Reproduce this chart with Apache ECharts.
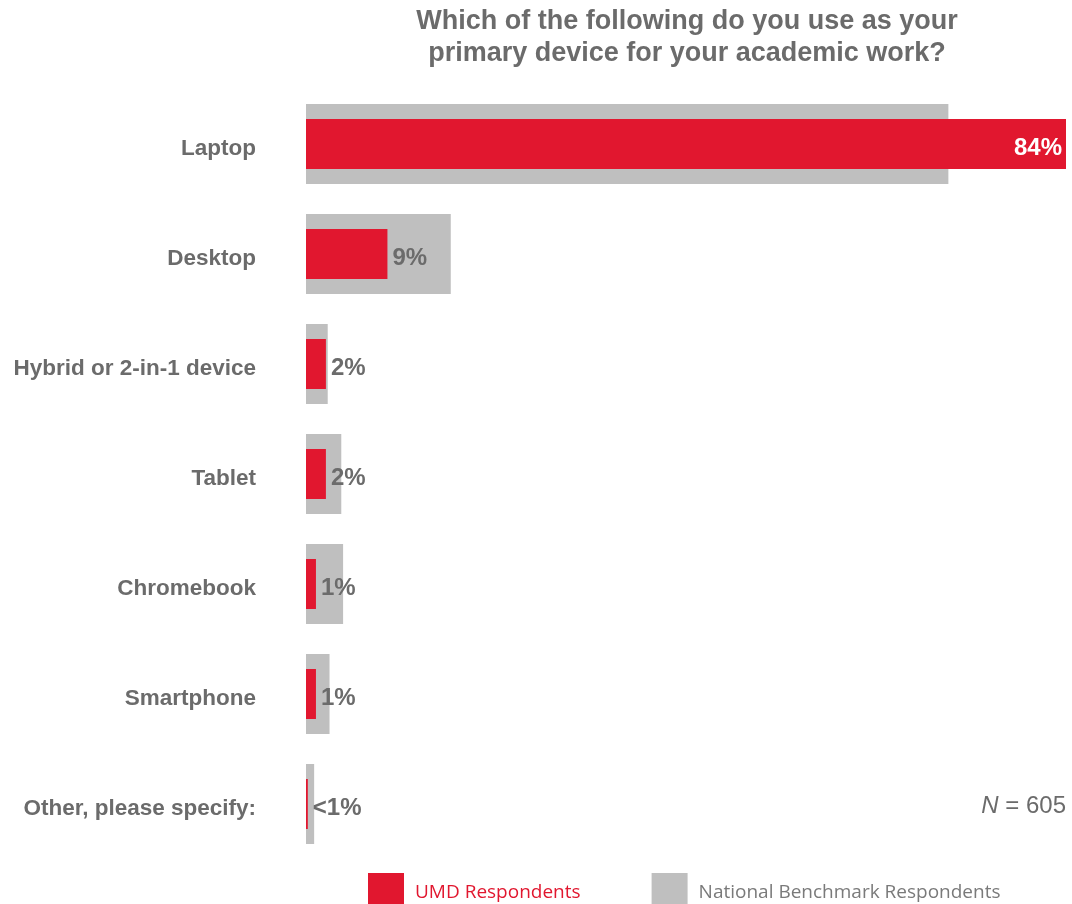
<!DOCTYPE html>
<html>
<head>
<meta charset="utf-8">
<script src="https://cdn.jsdelivr.net/npm/echarts@6/dist/echarts.min.js"></script>
<style>
  html, body { margin: 0; padding: 0; background: #ffffff; }
  #chart { width: 1072px; height: 904px; }
</style>
</head>
<body>
<div id="chart"></div>
<script>
// Survey question: primary device used for academic work
const categories = ['Laptop', 'Desktop', 'Hybrid or 2-in-1 device', 'Tablet', 'Chromebook', 'Smartphone', 'Other, please specify:'];
const umdValues = [84, 9, 2.2, 2.2, 1.1, 1.1, 0.2];
const umdLabels = ['84%', '9%', '2%', '2%', '1%', '1%', '<1%'];
const nationalValues = [71, 16, 2.4, 3.9, 4.1, 2.6, 0.9];
const seriesNames = ['UMD Respondents', 'National Benchmark Respondents'];
const titleLines = ['Which of the following do you use as your', 'primary device for your academic work?'];
const sampleSize = '605';

const RED = '#e1172f';
const GREY = '#bfbfbf';
const TEXT = '#6b6b6b';
const FONT = '"Liberation Sans", Arial, sans-serif';

const chart = echarts.init(document.getElementById('chart'), null, { renderer: 'canvas' });

const categoryAxis = (show) => ({
  type: 'category',
  data: categories,
  inverse: true,
  show: show,
  axisLine: { show: false },
  axisTick: { show: false },
  axisLabel: {
    show: show,
    margin: 50,
    color: TEXT,
    fontFamily: FONT,
    fontWeight: 'bold',
    fontSize: 22.5,
    verticalAlign: 'top',
    lineHeight: 9
  }
});

chart.setOption({
  animation: false,
  backgroundColor: '#ffffff',
  grid: { left: 306, right: 6, top: 89, bottom: 45, containLabel: false },
  xAxis: { type: 'value', min: 0, max: 84, show: false },
  yAxis: [categoryAxis(true), categoryAxis(false)],
  legend: {
    left: 368,
    top: 873,
    padding: 0,
    itemWidth: 36,
    itemHeight: 40,
    itemGap: 71,
    icon: 'rect',
    textStyle: { fontFamily: '"Open Sans", sans-serif', fontSize: 19, padding: [0, 0, 2, 6] },
    data: [
      { name: seriesNames[0], textStyle: { color: RED } },
      { name: seriesNames[1], textStyle: { color: '#7a7a7a' } }
    ]
  },
  series: [
    {
      name: seriesNames[1],
      type: 'bar',
      yAxisIndex: 0,
      barWidth: 80,
      itemStyle: { color: GREY },
      data: nationalValues
    },
    {
      name: seriesNames[0],
      type: 'bar',
      yAxisIndex: 1,
      barWidth: 50,
      itemStyle: { color: RED },
      label: {
        show: true,
        position: 'right',
        distance: 5,
        offset: [0, 4],
        color: TEXT,
        fontFamily: FONT,
        fontWeight: 'bold',
        fontSize: 24,
        formatter: (p) => umdLabels[p.dataIndex]
      },
      data: umdValues.map((v, i) => i === 0
        ? { value: v, label: { position: 'insideRight', distance: 4, color: '#ffffff' } }
        : v)
    }
  ],
  graphic: [
    {
      type: 'text',
      x: 687,
      y: 6,
      style: {
        text: titleLines.join('\n'),
        align: 'center',
        font: 'bold 27px ' + FONT,
        lineHeight: 32,
        fill: TEXT
      }
    },
    {
      type: 'text',
      x: 1066,
      y: 806,
      style: {
        text: '{i|N} = ' + sampleSize,
        align: 'right',
        verticalAlign: 'middle',
        font: '24px ' + FONT,
        fill: TEXT,
        rich: { i: { fontStyle: 'italic', fontSize: 24, fontFamily: FONT, fill: TEXT, color: TEXT } }
      }
    }
  ]
});
</script>
</body>
</html>
